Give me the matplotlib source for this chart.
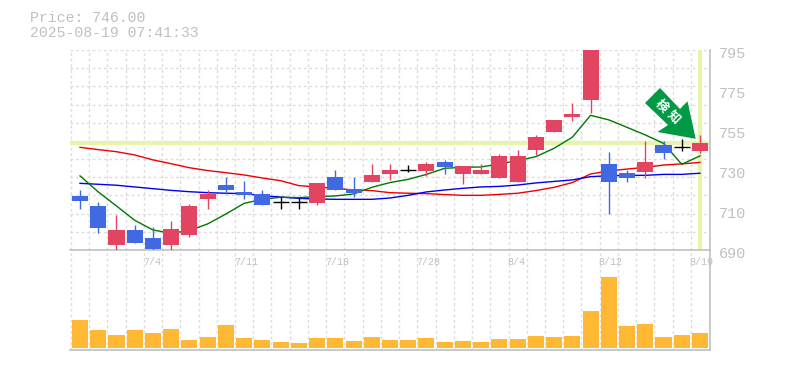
import matplotlib
matplotlib.use("Agg")
import matplotlib.pyplot as plt
import numpy as np
from matplotlib.patches import Polygon

W, H = 785, 370

dates = {4: "7/4", 9: "7/11", 14: "7/18", 19: "7/28", 24: "8/4", 29: "8/12", 34: "8/19"}
price_ticks = [690, 711, 732, 753, 774, 795]
price_labels = ["690", "710", "730", "755", "775", "795"]
last_price = 746.0

opens = [718.4, 713.1, 692.6, 700.5, 696.3, 692.6, 697.9, 716.8, 724.1, 720.5, 719.4, 715.0,
         715.0, 714.7, 728.3, 722.0, 725.7, 729.9, 732.0, 731.5, 736.2, 729.9, 729.9, 727.8,
         725.7, 742.5, 752.0, 759.8, 768.8, 735.2, 730.4, 731.0, 745.1, 744.1, 742.0]
closes = [715.7, 701.6, 700.5, 693.7, 690.5, 701.0, 713.1, 719.4, 721.5, 718.9, 713.6, 715.0,
          715.0, 725.2, 721.5, 719.9, 729.4, 732.0, 732.0, 735.2, 733.6, 734.1, 732.0, 739.4,
          739.4, 749.3, 758.3, 761.4, 795.0, 725.7, 727.8, 736.2, 740.9, 744.1, 746.2]
highs = [721.5, 715.2, 708.4, 703.1, 701.9, 705.2, 714.2, 721.5, 728.3, 726.2, 721.5, 717.7,
         717.7, 725.2, 732.0, 728.3, 735.2, 735.2, 734.6, 736.2, 737.3, 734.1, 735.2, 740.4,
         742.5, 750.4, 758.3, 767.2, 795.0, 741.5, 732.0, 747.2, 747.2, 748.3, 750.4]
lows = [711.5, 698.9, 690.0, 693.7, 690.0, 690.0, 696.8, 711.5, 719.4, 716.8, 713.6, 711.5,
        711.5, 713.6, 721.5, 717.8, 725.7, 726.8, 731.0, 728.9, 729.9, 724.7, 729.9, 727.8,
        725.7, 739.9, 752.0, 757.7, 761.9, 708.9, 725.7, 727.8, 737.8, 742.0, 740.9]

ma_green = [728.9, 720.5, 713.1, 705.6, 700.5, 698.8, 700.2, 703.7, 708.9, 714.5, 716.6, 717.7,
            717.5, 718.0, 718.4, 719.4, 722.9, 725.4, 727.1, 729.7, 732.9, 733.4, 733.6, 735.2,
            736.9, 739.0, 743.4, 749.2, 760.7, 758.3, 754.4, 750.4, 746.0, 735.0, 739.4]
ma_blue = [725.0, 724.5, 724.0, 723.1, 722.2, 721.3, 720.6, 720.1, 719.8, 719.6, 718.5, 717.8,
           717.1, 716.8, 716.6, 716.6, 716.6, 717.3, 718.7, 720.5, 721.5, 722.4, 723.1, 723.4,
           724.1, 725.2, 726.0, 726.8, 728.5, 729.0, 729.2, 729.2, 729.7, 729.7, 730.3]
ma_red = [743.9, 742.7, 741.6, 739.9, 737.3, 735.3, 733.2, 731.7, 730.6, 729.4, 727.8, 726.4,
          723.8, 723.1, 722.4, 721.5, 721.2, 720.1, 719.8, 719.6, 719.1, 718.7, 718.7, 719.2,
          719.8, 721.2, 722.9, 725.4, 729.9, 731.5, 732.5, 733.4, 734.6, 735.2, 736.0]

volume = [84, 54, 39, 54, 45, 57, 24, 33, 69, 30, 24, 18, 15, 30, 30, 21, 33, 24,
          24, 30, 18, 21, 18, 27, 27, 36, 33, 36, 111, 213, 66, 72, 33, 39, 45]

GREY = "#c0c0c0"
UP = "#e24462"
DOWN = "#4169e1"
HILITE = "#e6f5aa"
MONO = "Liberation Mono"

fig = plt.figure(figsize=(W / 100, H / 100), dpi=100)


def px_axes(left, top, right, bottom):
    return fig.add_axes([left / W, 1 - bottom / H, (right - left) / W, (bottom - top) / H])


ax = px_axes(70, 50, 710, 250)
vol = px_axes(70, 250, 710, 350)
ax.set_zorder(2)
ax.patch.set_visible(False)
x = np.arange(len(closes))
xlim = (-0.55, 34.55)

for a in (ax, vol):
    a.set_xlim(xlim)
    a.set_xticks(x - 0.5)
    a.tick_params(length=0, labelbottom=False, labelleft=False)
    a.grid(axis="x", color="#dcdcdc", lw=1, ls=(0, (2, 2)))
    a.set_axisbelow(True)
    for s in a.spines.values():
        s.set_visible(False)
    a.spines["bottom"].set_visible(True)
    a.spines["right"].set_visible(True)
    a.spines["bottom"].set_color(GREY)
    a.spines["right"].set_color(GREY)
    a.spines["bottom"].set_linewidth(1.2)
    a.spines["right"].set_linewidth(1.2)

ax.set_ylim(690, 795)
ax.set_yticks(np.linspace(690, 795, 12))
ax.grid(axis="y", color="#dcdcdc", lw=1, ls=(0, (2, 2)))
vol.set_ylim(-6, 294)
vol.set_yticks([])

ax.axhline(last_price, color=HILITE, lw=3, zorder=1.5)
ax.axvline(x[-1], ymin=0.005, ymax=0.995, color=HILITE, lw=3, zorder=1.5)

ax.plot(x, ma_red, color="#ee0000", lw=1, zorder=2)
ax.plot(x, ma_blue, color="#0000ee", lw=1, zorder=2)
ax.plot(x, ma_green, color="#007700", lw=1, zorder=2)

for i in x:
    o, c = opens[i], closes[i]
    if o == c:
        color = "black"
    elif c > o:
        color = UP
    else:
        color = DOWN
    ax.vlines(i, lows[i], highs[i], color=color, lw=1, zorder=3)
    if o == c:
        ax.hlines(c, i - 0.44, i + 0.44, color=color, lw=1, zorder=3)
    else:
        ax.bar(i, abs(c - o), bottom=min(o, c), width=0.88, color=color, zorder=3)

vol.bar(x, volume, width=0.88, color="#ffb833", zorder=3)

# labels sit just under / right of their grid line
for i, lab in dates.items():
    ax.annotate(lab, (i - 0.5, 690), xytext=(-1, -7), textcoords="offset pixels", ha="left", va="top",
                family=MONO, fontsize=7.2, color=GREY, annotation_clip=False)
for p, lab in zip(price_ticks, price_labels):
    ax.annotate(lab, (34.55, p), xytext=(9, -4), textcoords="offset pixels", ha="left", va="center",
                family=MONO, fontsize=10.9, color=GREY, annotation_clip=False)

fig.text(30 / W, 1 - 18 / H, "Price: %.2f" % last_price, family=MONO, fontsize=10.72, color=GREY, va="center")
fig.text(30 / W, 1 - 33 / H, "2025-08-19 07:41:33", family=MONO, fontsize=10.72, color=GREY, va="center")

# buy/sell marker arrow
arrow = [(660, 88), (645, 103), (668, 125), (657.5, 132), (695.7, 138.8), (687.5, 101.3), (680, 109)]
fig.add_artist(Polygon([(a / W, 1 - b / H) for a, b in arrow], closed=True, transform=fig.transFigure,
                       facecolor="#009944", edgecolor="none", zorder=5))
fig.text(661.7 / W, 1 - 106 / H, "検", family="Noto Sans CJK JP", fontsize=9, weight="bold", color="white",
         rotation=-45, ha="center", va="center", zorder=6)
fig.text(673.3 / W, 1 - 116.7 / H, "知", family="Noto Sans CJK JP", fontsize=9, weight="bold", color="white",
         rotation=-45, ha="center", va="center", zorder=6)

fig.savefig("out.png", dpi=100)
